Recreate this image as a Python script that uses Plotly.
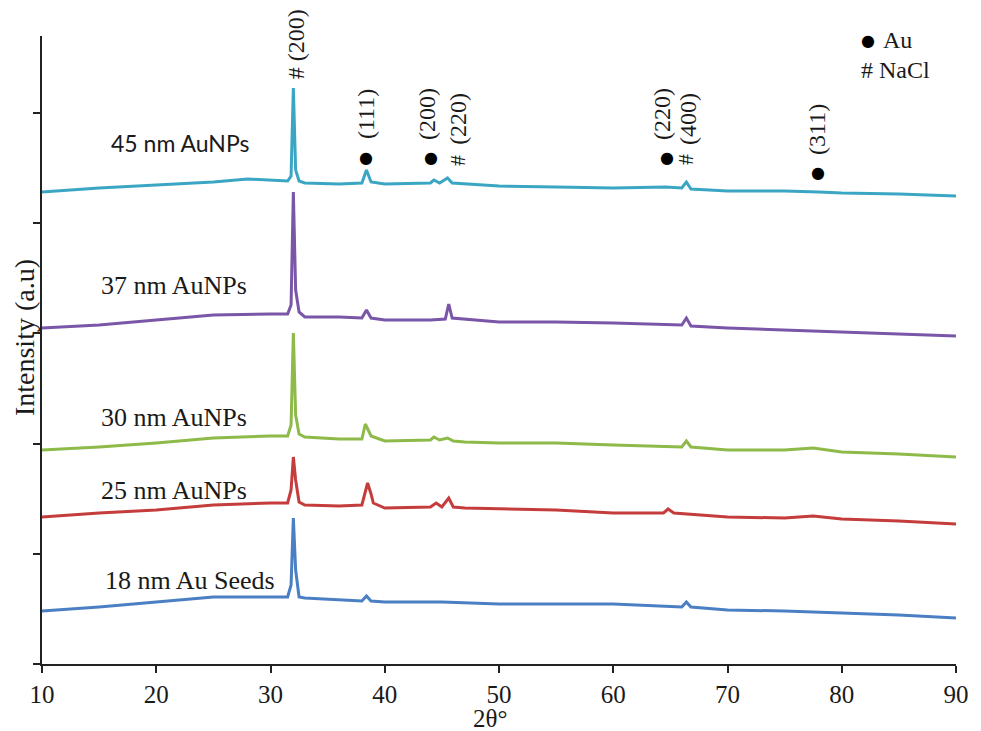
import plotly.graph_objects as go

# ---------------- data (2θ in degrees, intensity in arbitrary units) ----------------
x_45 = [10, 15, 20, 25, 28, 30, 31.5, 31.8, 32.0, 32.2, 32.5, 33, 36, 38.0, 38.4, 38.8, 40, 44.0, 44.3, 44.8,
        45.5, 45.9, 50, 55, 60, 64.6, 66.0, 66.4, 66.8, 70, 75, 78, 80, 85, 90]
y_45 = [472, 476, 479, 482, 485, 484, 483, 488, 576, 494, 483, 481, 480, 481, 494, 482, 480, 481, 484, 481,
        486, 481, 478, 477, 476, 477, 476, 482, 475, 473, 473, 472, 471, 470, 468]

x_37 = [10, 15, 20, 25, 30, 31.5, 31.8, 32.0, 32.2, 32.5, 33, 36, 38.0, 38.4, 38.8, 40, 44, 45.3, 45.6, 45.9,
        50, 55, 60, 66.0, 66.4, 66.8, 70, 75, 80, 85, 90]
y_37 = [336, 339, 344, 349, 350, 350, 359, 472, 374, 352, 347, 347, 346, 354, 346, 344, 344, 345, 360, 346,
        342, 342, 341, 339, 346, 338, 336, 334, 332, 330, 328]

x_30 = [10, 15, 20, 25, 30, 31.5, 31.8, 32.0, 32.2, 32.5, 33, 36, 38.0, 38.3, 38.8, 40, 44.0, 44.3, 44.8,
        45.5, 46, 47, 50, 55, 60, 66.0, 66.4, 66.8, 70, 75, 77.5, 80, 85, 90]
y_30 = [214, 217, 221, 226, 228, 228, 239, 331, 249, 230, 227, 225, 225, 240, 228, 223, 224, 227, 224,
        226, 223, 222, 221, 221, 219, 217, 223, 217, 214, 214, 216, 212, 210, 207]

x_25 = [10, 15, 20, 25, 30, 31.5, 31.8, 32.0, 32.2, 32.5, 33, 36, 38.0, 38.2, 38.5, 38.8, 39.0, 40, 44.0,
        44.5, 45.0, 45.6, 46.0, 47, 50, 55, 60, 64.4, 64.8, 65.3, 70, 75, 77.5, 80, 85, 90]
y_25 = [147, 151, 154, 159, 161, 161, 174, 207, 184, 162, 159, 158, 159, 169, 181, 170, 161, 156, 157,
        161, 157, 166, 157, 156, 155, 154, 151, 151, 155, 151, 147, 146, 148, 145, 143, 140]

x_18 = [10, 15, 20, 25, 30, 31.5, 31.8, 32.0, 32.2, 32.5, 33, 36, 38.0, 38.4, 38.8, 40, 45, 50, 55, 60,
        66.0, 66.4, 66.8, 70, 75, 80, 85, 90]
y_18 = [53, 57, 62, 67, 67, 67, 79, 146, 94, 67, 66, 64, 63, 68, 63, 62, 62, 60, 60, 60,
        57, 62, 57, 54, 53, 51, 49, 46]

series_names = ["45 nm AuNPs", "37 nm AuNPs", "30 nm AuNPs", "25 nm AuNPs", "18 nm Au Seeds"]
series_x = [x_45, x_37, x_30, x_25, x_18]
series_y = [y_45, y_37, y_30, y_25, y_18]
series_colors = ["#3ba6c4", "#7a56a8", "#8dba48", "#c43c3c", "#4a7fc3"]

# sample labels: (x position of left edge, y position)
label_x = [15.9, 15.0, 15.0, 15.0, 15.3]
label_y = [521, 379, 247, 174, 84]

x_ticks = [10, 20, 30, 40, 50, 60, 70, 80, 90]

# Peak labels (rotated text): text, x, y
peak_texts = ["# (200)", "(111)", "(200)", "(220)", "(220)", "(400)", "(311)"]
peak_text_x = [32.25, 38.36, 43.7, 46.4, 64.27, 66.54, 77.83]
peak_text_y = [620, 550, 550, 545, 550, 545, 535]
# phase markers: symbol, x, y
phase_syms = ["●", "●", "#", "●", "#", "●"]
phase_x = [38.36, 44.05, 46.32, 64.7, 66.28, 77.92]
phase_y = [507, 507, 504, 507, 504, 492]

SERIF = "Liberation Serif"

fig = go.Figure()
for nm, xs, ys, c in zip(series_names, series_x, series_y, series_colors):
    fig.add_trace(go.Scatter(x=xs, y=ys, mode="lines", name=nm,
                             line=dict(color=c, width=3), showlegend=False))

ann = []
for i, nm in enumerate(series_names):
    fnt = dict(family="Lato" if i == 0 else SERIF, size=23 if i == 0 else 26, color="#1a1a1a")
    ann.append(dict(x=label_x[i], y=label_y[i], xref="x", yref="y", text=nm, showarrow=False,
                    xanchor="left", yanchor="middle", font=fnt))

for t, px, py in zip(peak_texts, peak_text_x, peak_text_y):
    ann.append(dict(x=px, y=py, xref="x", yref="y", text=t, showarrow=False, textangle=-90,
                    xanchor="center", yanchor="middle", font=dict(family=SERIF, size=24, color="#1a1a1a")))
for s, px, py in zip(phase_syms, phase_x, phase_y):
    if s == "#":
        ann.append(dict(x=px, y=py, xref="x", yref="y", text=s, showarrow=False, textangle=-90,
                        xanchor="center", yanchor="middle", font=dict(family=SERIF, size=22, color="#1a1a1a")))
    else:
        ann.append(dict(x=px, y=py, xref="x", yref="y", text=s, showarrow=False,
                        xanchor="center", yanchor="middle", font=dict(family="DejaVu Sans", size=16, color="#000")))

# legend-like key
ann.append(dict(x=82.3, y=624, xref="x", yref="y", text="●", showarrow=False, xanchor="center",
                yanchor="middle", font=dict(family="DejaVu Sans", size=16, color="#000")))
ann.append(dict(x=83.4, y=624, xref="x", yref="y", text="Au", showarrow=False, xanchor="left",
                yanchor="middle", font=dict(family=SERIF, size=24, color="#1a1a1a")))
ann.append(dict(x=81.5, y=594, xref="x", yref="y", text="# NaCl", showarrow=False, xanchor="left",
                yanchor="middle", font=dict(family=SERIF, size=24, color="#1a1a1a")))

# axis titles
ann.append(dict(x=-0.019, y=0.52, xref="paper", yref="paper", text="Intensity (a.u)", showarrow=False,
                textangle=-90, xanchor="center", yanchor="middle",
                font=dict(family=SERIF, size=28, color="#1a1a1a")))
ann.append(dict(x=49.2, y=-0.086, xref="x", yref="paper", text="2θ°", showarrow=False,
                xanchor="center", yanchor="middle", font=dict(family=SERIF, size=25, color="#1a1a1a")))

fig.update_layout(
    width=981, height=731,
    margin=dict(l=42, r=25, t=36, b=67),
    paper_bgcolor="white", plot_bgcolor="white",
    annotations=ann,
    xaxis=dict(range=[10, 90], tickvals=x_ticks, ticktext=[str(v) for v in x_ticks],
               ticks="outside", ticklen=7, tickwidth=2, tickcolor="#222",
               showline=True, linecolor="#222", linewidth=2, showgrid=False, zeroline=False,
               tickfont=dict(family=SERIF, size=25, color="#1a1a1a")),
    yaxis=dict(range=[0, 628], tick0=0, dtick=110.2, showticklabels=False,
               ticks="outside", ticklen=7, tickwidth=2, tickcolor="#222",
               showline=True, linecolor="#222", linewidth=2, showgrid=False, zeroline=False),
)

fig.write_html("out.html")
